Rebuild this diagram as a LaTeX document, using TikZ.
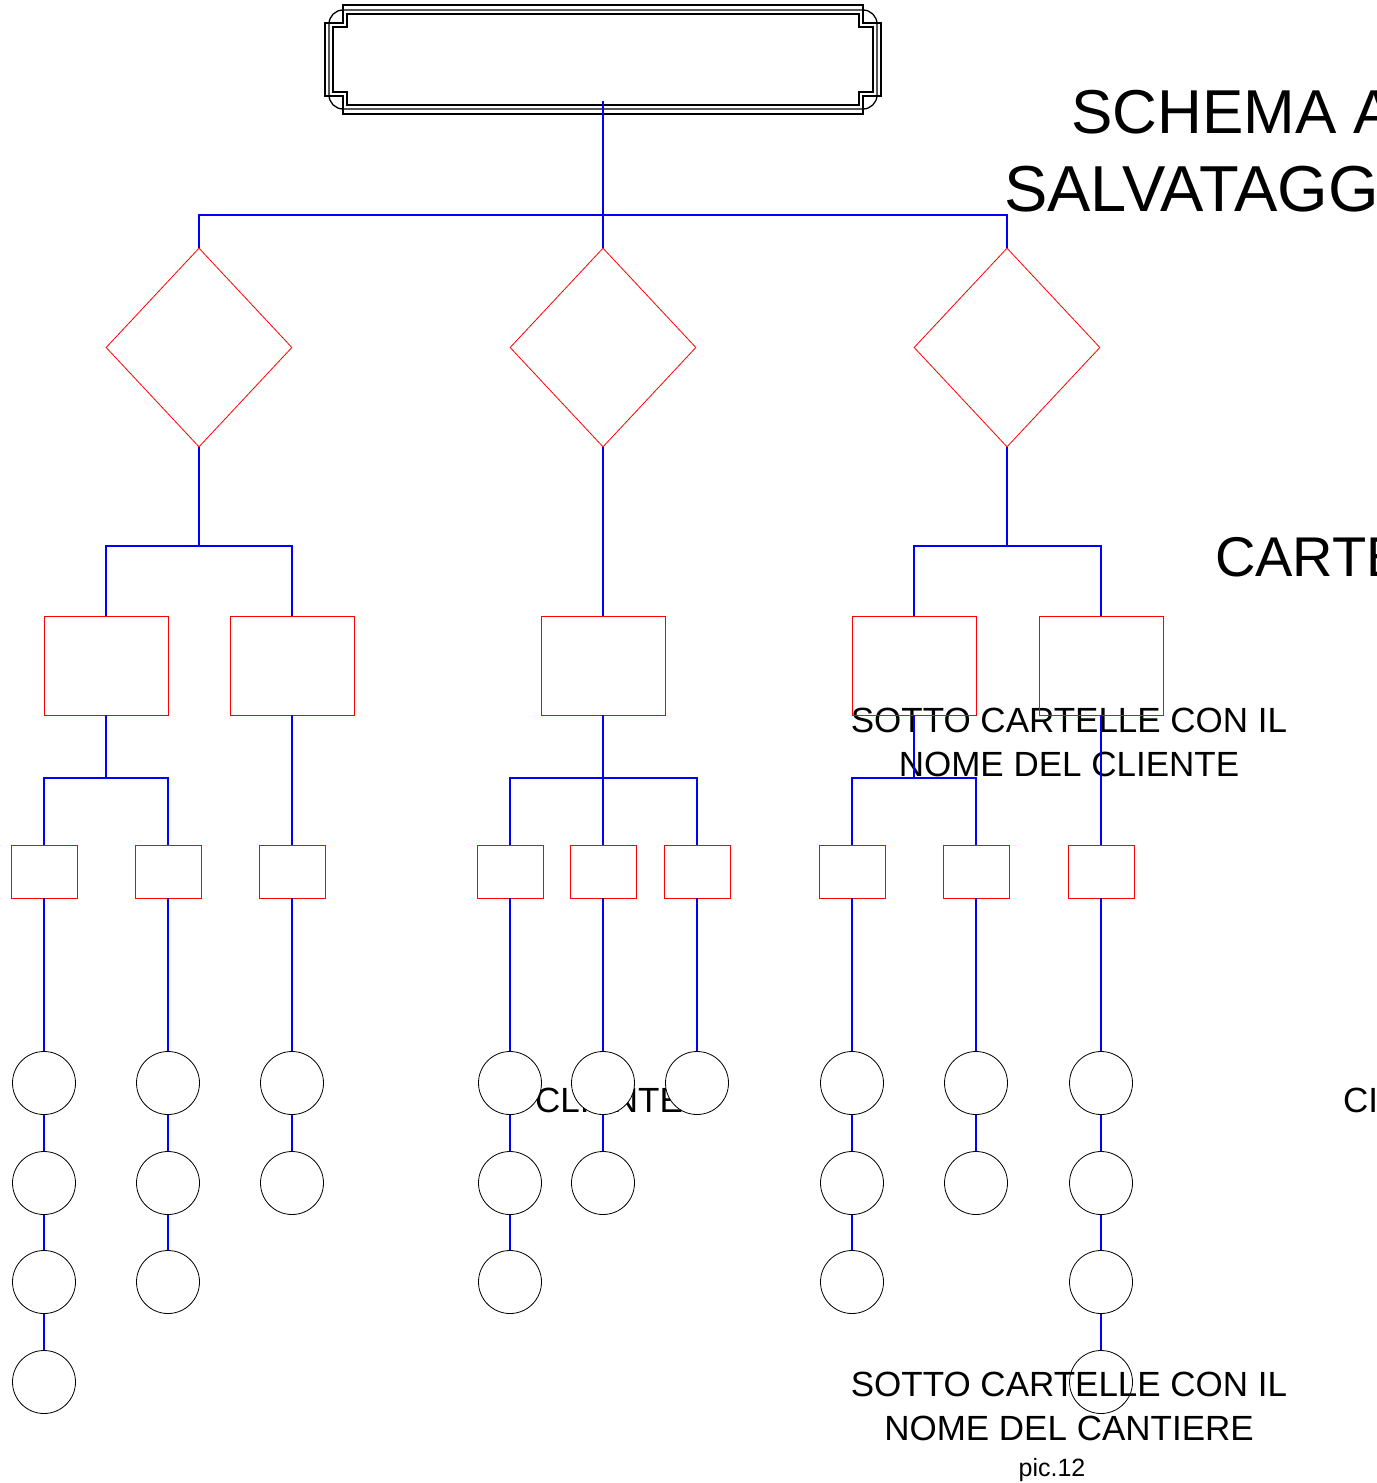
\documentclass[tikz,border=0pt]{standalone}
\usepackage{fontspec}
\setmainfont{Liberation Sans}
\usetikzlibrary{shapes.geometric}
\begin{document}
\begin{tikzpicture}[x=1pt,y=-1pt,
  wire/.style={blue, line width=1.5pt},
  dia/.style={diamond, draw=red, line width=0.8pt, minimum width=186pt, minimum height=199pt, inner sep=0pt},
  bigbox/.style={rectangle, draw=red, line width=0.8pt, minimum width=124pt, minimum height=99pt, inner sep=0pt},
  smallbox/.style={rectangle, draw=red, line width=0.8pt, minimum width=66pt, minimum height=53pt, inner sep=0pt},
  circ/.style={circle, draw=black, fill=white, line width=0.8pt, minimum size=63pt, inner sep=0pt},
  frame/.style={draw=black, line width=1.3pt},
  lbl/.style={inner sep=0pt, font=\fontsize{35}{35}\selectfont, anchor=base},
  title/.style={inner sep=0pt, anchor=base west}]
\useasboundingbox (0,0) rectangle (1376,1483);
\fill[white] (0,0) rectangle (1376,1483);
\clip (0,0) rectangle (1376,1483);

% titles (cut by the right edge)
\node[title, font=\fontsize{62}{62}\selectfont] (t1) at (1071,133) {SCHEMA A};
\node[title, font=\fontsize{65}{65}\selectfont] (t2) at (1004,211) {SALVATAGG};
\node[title, font=\fontsize{56}{56}\selectfont] (t3) at (1215,576) {CARTE};
\node[title, font=\fontsize{35}{35}\selectfont] (t4) at (1343,1112) {CI};
\node[lbl] (t5) at (609,1112) {CLIENTE};
\node[lbl] (t6) at (1069,732) {SOTTO CARTELLE CON IL};
\node[lbl] (t7) at (1069,776) {NOME DEL CLIENTE};

% top frame
\node[minimum width=532pt, minimum height=83pt, inner sep=0pt] (top) at (603,59.5) {};
\draw[frame] (343,5) -- (863,5) -- (863,23) -- (881,23) -- (881,96) -- (863,96) -- (863,114)
  -- (343,114) -- (343,96) -- (325,96) -- (325,23) -- (343,23) -- cycle;
\draw[frame, rounded corners=14pt] (329,10) rectangle (877,109);
\draw[frame] (347,14) -- (859,14) -- (859,27) -- (873,27) -- (873,92) -- (859,92) -- (859,105)
  -- (347,105) -- (347,92) -- (333,92) -- (333,27) -- (347,27) -- cycle;

% diamonds
\node[dia] (d1) at (199,347.5) {};
\node[dia] (d2) at (603,347.5) {};
\node[dia] (d3) at (1007,347.5) {};

% big boxes
\node[bigbox] (r1) at (106,665.5) {};
\node[bigbox] (r2) at (292,665.5) {};
\node[bigbox] (r3) at (603,665.5) {};
\node[bigbox] (r4) at (914,665.5) {};
\node[bigbox] (r5) at (1101,665.5) {};

% small boxes
\foreach \i/\x in {1/44,2/168,3/292,4/510,5/603,6/697,7/852,8/976,9/1101}
  \node[smallbox] (s\i) at (\x,871.5) {};

% junctions
\coordinate (j0) at (603,215);
\coordinate (j1) at (199,546);
\coordinate (j3) at (1007,546);
\coordinate (k1) at (106,778);
\coordinate (k2) at (603,778);
\coordinate (k3) at (914,778);

% connectors
\draw[wire] (top.south) -- (d2.north);
\draw[wire] (d1.north) |- (j0) -| (d3.north);
\draw[wire] (d1.south) -- (j1);
\draw[wire] (r1.north) |- (j1) -| (r2.north);
\draw[wire] (d2.south) -- (r3.north);
\draw[wire] (d3.south) -- (j3);
\draw[wire] (r4.north) |- (j3) -| (r5.north);
\draw[wire] (r1.south) -- (k1);
\draw[wire] (s1.north) |- (k1) -| (s2.north);
\draw[wire] (r2.south) -- (s3.north);
\draw[wire] (r3.south) -- (s5.north);
\draw[wire] (s4.north) |- (k2) -| (s6.north);
\draw[wire] (r4.south) -- (k3);
\draw[wire] (s7.north) |- (k3) -| (s8.north);
\draw[wire] (r5.south) -- (s9.north);

% circles and their chains
\foreach \c/\x/\n in {1/44/4,2/168/3,3/292/2,4/510/3,5/603/2,6/697/1,7/852/3,8/976/2,9/1101/4}{
  \foreach \r/\y in {1/1083,2/1183,3/1282,4/1382}{
    \ifnum\r>\n\relax\else
      \node[circ] (c\c-\r) at (\x,\y) {};
    \fi
  }
  \draw[wire] (s\c.south) -- (c\c-1.north);
  \foreach \r in {2,3,4}{
    \pgfmathtruncatemacro{\p}{\r-1}
    \ifnum\r>\n\relax\else
      \draw[wire] (c\c-\p.south) -- (c\c-\r.north);
    \fi
  }
}

% bottom labels
\node[lbl] (b1) at (1069,1396) {SOTTO CARTELLE CON IL};
\node[lbl] (b2) at (1069,1440) {NOME DEL CANTIERE};
\node[lbl, font=\fontsize{25}{25}\selectfont] (b3) at (1052,1476) {pic.12};
\end{tikzpicture}
\end{document}
